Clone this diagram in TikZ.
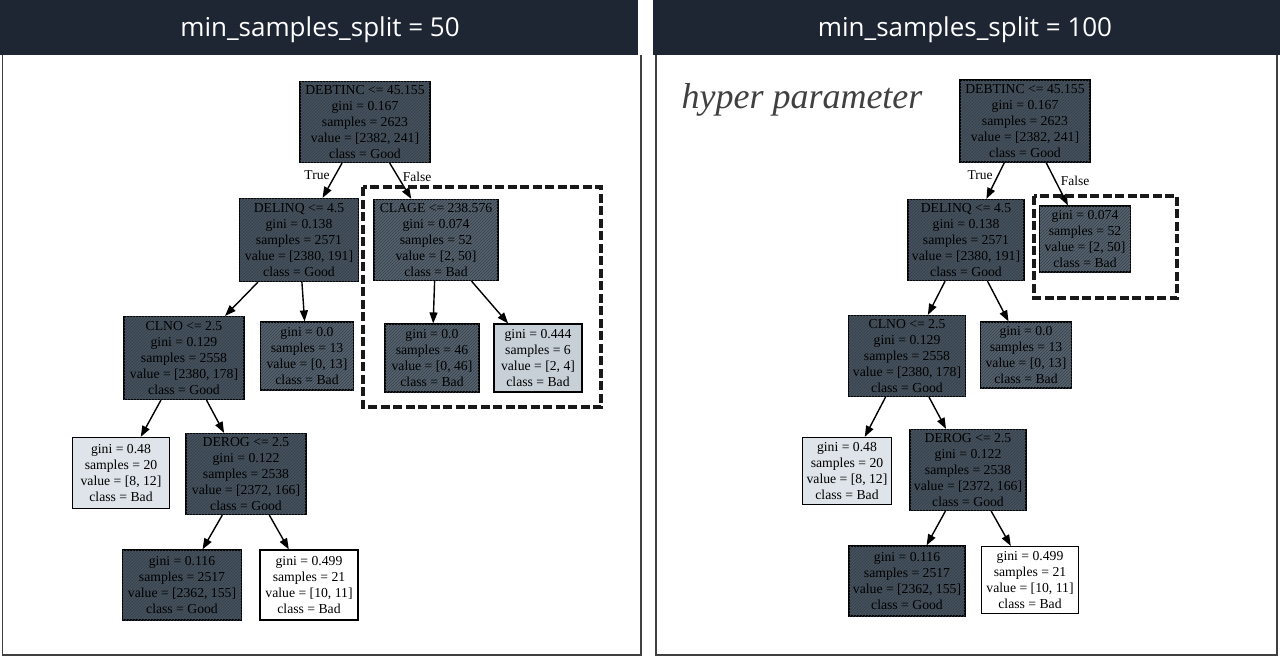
\documentclass[tikz,border=0pt]{standalone}
\usepackage{fontspec}
\setmainfont{Liberation Serif}
\newfontfamily\titlefont{Open Sans}
\usetikzlibrary{arrows.meta,patterns}
\definecolor{hdr}{HTML}{1E2533}
\definecolor{dk}{HTML}{45515C}
\definecolor{md}{HTML}{56636E}
\definecolor{lt}{HTML}{C7CFD7}
\definecolor{vl}{HTML}{DEE4E9}
\definecolor{hatch}{HTML}{36404A}
\begin{document}
\begin{tikzpicture}[x=1pt,y=-1pt,
  tn/.style={draw=black, line width=1.2pt, align=center, inner sep=0pt,
    font=\fontsize{13.7}{15.8}\selectfont},
  dkbox/.style={tn, fill=dk, postaction={pattern=north east lines, pattern color=hatch}},
  mdbox/.style={tn, fill=md, postaction={pattern=north east lines, pattern color=hatch}},
  ltbox/.style={tn, fill=lt},
  vlbox/.style={tn, fill=vl},
  wbox/.style={tn, fill=white},
  edge/.style={draw=black, line width=1.4pt, -{Triangle[length=11pt,width=8pt]}},
  elab/.style={font=\fontsize{13.5}{15}\selectfont, inner sep=0pt},
  hl/.style={draw=black!90, line width=3.2pt, dash pattern=on 9pt off 3.5pt},
  title/.style={text=white, font=\titlefont\fontsize{26}{30}\selectfont, inner sep=0pt}
]
\useasboundingbox (0,0) rectangle (1280,659);
\fill[white] (0,0) rectangle (1280,659);
% panels
\fill[hdr] (0,0) rectangle (638,55);
\fill[hdr] (653,0) rectangle (1280,55);
\draw[black!75, line width=1.2pt] (2.5,55) -- (2.5,655) -- (641,655) -- (641,55);
\draw[black!75, line width=1.2pt] (656,55) -- (656,655) -- (1277,655) -- (1277,55);
\node[title] (t1) at (320,30) {min\_samples\_split = 50};
\node[title] (t2) at (965,30) {min\_samples\_split = 100};

% ---------- left tree ----------
\node[dkbox, minimum width=130pt, minimum height=81pt] (L0) at (365,122)
  {DEBTINC <= 45.155\\gini = 0.167\\samples = 2623\\value = [2382, 241]\\class = Good};
\node[dkbox, minimum width=119pt, minimum height=83pt] (L1) at (299,240)
  {DELINQ <= 4.5\\gini = 0.138\\samples = 2571\\value = [2380, 191]\\class = Good};
\node[mdbox, minimum width=124pt, minimum height=81pt] (L2) at (436,240)
  {CLAGE <= 238.576\\gini = 0.074\\samples = 52\\value = [2, 50]\\class = Bad};
\node[dkbox, minimum width=120pt, minimum height=83pt] (L3) at (184,358)
  {CLNO <= 2.5\\gini = 0.129\\samples = 2558\\value = [2380, 178]\\class = Good};
\node[mdbox, minimum width=93pt, minimum height=68pt] (L4) at (307,356)
  {gini = 0.0\\samples = 13\\value = [0, 13]\\class = Bad};
\node[mdbox, minimum width=94pt, minimum height=68pt] (L5) at (432,358)
  {gini = 0.0\\samples = 46\\value = [0, 46]\\class = Bad};
\node[ltbox, minimum width=88pt, minimum height=68pt] (L6) at (538,358)
  {gini = 0.444\\samples = 6\\value = [2, 4]\\class = Bad};
\node[vlbox, minimum width=97pt, minimum height=71pt] (L7) at (121,473)
  {gini = 0.48\\samples = 20\\value = [8, 12]\\class = Bad};
\node[dkbox, minimum width=120pt, minimum height=81pt] (L8) at (246,474)
  {DEROG <= 2.5\\gini = 0.122\\samples = 2538\\value = [2372, 166]\\class = Good};
\node[dkbox, minimum width=119pt, minimum height=70pt] (L9) at (182,585)
  {gini = 0.116\\samples = 2517\\value = [2362, 155]\\class = Good};
\node[wbox, minimum width=98pt, minimum height=70pt] (L10) at (309,585)
  {gini = 0.499\\samples = 21\\value = [10, 11]\\class = Bad};
\draw[edge] (L0) -- (L1);
\draw[edge] (L0) -- (L2);
\draw[edge] (L1) -- (L3);
\draw[edge] (L1) -- (L4);
\draw[edge] (L2) -- (L5);
\draw[edge] (L2) -- (L6);
\draw[edge] (L3) -- (L7);
\draw[edge] (L3) -- (L8);
\draw[edge] (L8) -- (L9);
\draw[edge] (L8) -- (L10);
\node[elab] (LT) at (317,175) {True};
\node[elab] (LF) at (417,177) {False};
\coordinate (LHa) at (363,187);
\coordinate (LHb) at (601,407);
\draw[hl] (LHa) rectangle (LHb);

% ---------- right tree ----------
\node[dkbox, minimum width=130pt, minimum height=82pt] (R0) at (1025,121)
  {DEBTINC <= 45.155\\gini = 0.167\\samples = 2623\\value = [2382, 241]\\class = Good};
\node[dkbox, minimum width=116pt, minimum height=81pt] (R1) at (966,240)
  {DELINQ <= 4.5\\gini = 0.138\\samples = 2571\\value = [2380, 191]\\class = Good};
\node[mdbox, minimum width=91pt, minimum height=66pt] (R2) at (1085,239)
  {gini = 0.074\\samples = 52\\value = [2, 50]\\class = Bad};
\node[dkbox, minimum width=117pt, minimum height=81pt] (R3) at (907,356)
  {CLNO <= 2.5\\gini = 0.129\\samples = 2558\\value = [2380, 178]\\class = Good};
\node[mdbox, minimum width=91pt, minimum height=66pt] (R4) at (1026,355)
  {gini = 0.0\\samples = 13\\value = [0, 13]\\class = Bad};
\node[vlbox, minimum width=89pt, minimum height=67pt] (R7) at (847,471)
  {gini = 0.48\\samples = 20\\value = [8, 12]\\class = Bad};
\node[dkbox, minimum width=116pt, minimum height=81pt] (R8) at (968,470)
  {DEROG <= 2.5\\gini = 0.122\\samples = 2538\\value = [2372, 166]\\class = Good};
\node[dkbox, minimum width=116pt, minimum height=70pt] (R9) at (907,581)
  {gini = 0.116\\samples = 2517\\value = [2362, 155]\\class = Good};
\node[wbox, minimum width=97pt, minimum height=67pt] (R10) at (1030,580)
  {gini = 0.499\\samples = 21\\value = [10, 11]\\class = Bad};
\draw[edge] (R0) -- (R1);
\draw[edge] (R0) -- (R2);
\draw[edge] (R1) -- (R3);
\draw[edge] (R1) -- (R4);
\draw[edge] (R3) -- (R7);
\draw[edge] (R3) -- (R8);
\draw[edge] (R8) -- (R9);
\draw[edge] (R8) -- (R10);
\node[elab] (RT) at (980,175) {True};
\node[elab] (RF) at (1075,181) {False};
\coordinate (RHa) at (1034,196);
\coordinate (RHb) at (1177,298);
\draw[hl] (RHa) rectangle (RHb);

% handwritten note
\node[text=black!75, font=\itshape\fontsize{36}{40}\selectfont, inner sep=0pt] (note) at (802,100) {hyper parameter};
\end{tikzpicture}
\end{document}
